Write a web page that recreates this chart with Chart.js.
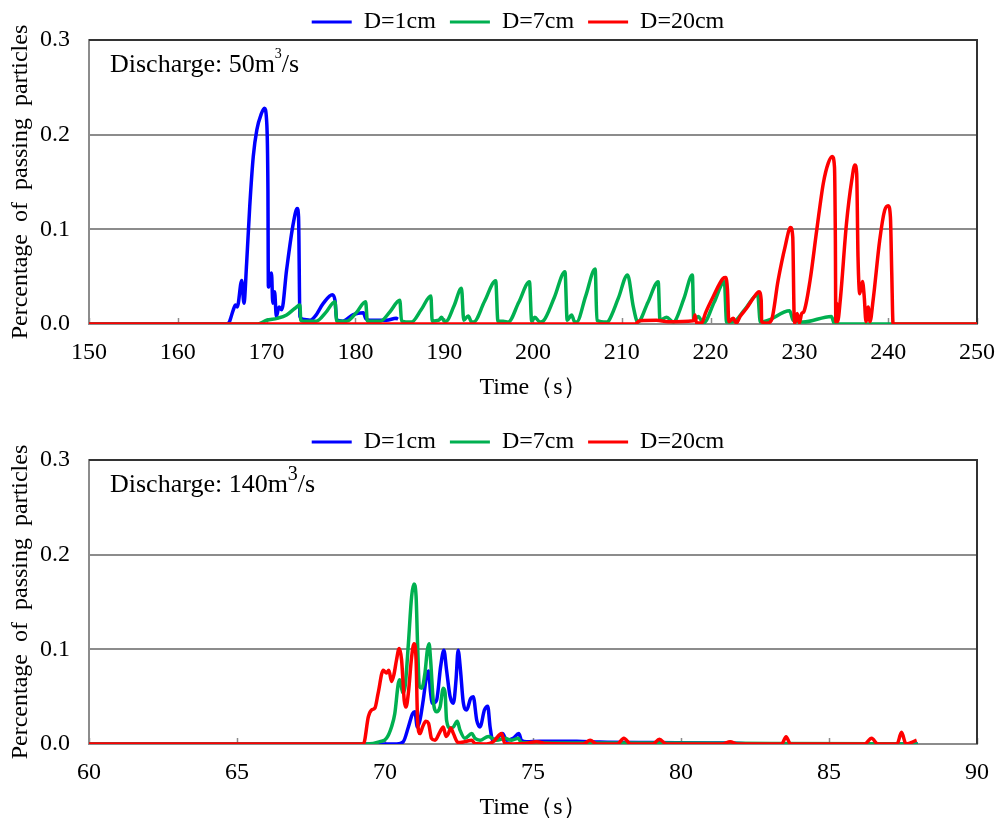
<!DOCTYPE html>
<html>
<head>
<meta charset="utf-8">
<script src="https://cdn.jsdelivr.net/npm/chart.js@4"></script>
<style>
  body { margin: 0; background: #fff; }
  .panel { position: absolute; left: 0; width: 998px; height: 403px; }
  #top-panel { top: 0; }
  #bottom-panel { top: 420px; }
</style>
</head>
<body>
<div class="panel" id="top-panel"><canvas id="chart50"></canvas></div>
<div class="panel" id="bottom-panel"><canvas id="chart140"></canvas></div>
<script>
// series
const seriesNames = ['D=1cm', 'D=7cm', 'D=20cm'];
const seriesColors = ['#0000FF', '#00B050', '#FF0000'];

// Discharge 50 m3/s (time in s, share of passing particles)
const top1cmTime = [150, 165.6, 165.8, 166.25, 166.5, 166.7, 167.2, 167.45, 167.75, 168.1, 168.5, 168.9, 169.4, 169.75, 170.0, 170.15, 170.2, 170.55, 170.7, 170.9, 171.1, 171.4, 171.7, 172.25, 173.0, 173.45, 173.6, 173.75, 174.1, 174.9, 175.45, 176.4, 177.4, 177.7, 177.9, 178.6, 179.75, 180.9, 181.15, 181.65, 183.5, 184.6, 184.8];
const top1cmValue = [0, 0, 0.002, 0.015, 0.02, 0.018, 0.046, 0.022, 0.064, 0.124, 0.177, 0.205, 0.222, 0.228, 0.215, 0.142, 0.039, 0.054, 0.022, 0.034, 0.008, 0.018, 0.015, 0.057, 0.106, 0.122, 0.113, 0.008, 0.005, 0.004, 0.008, 0.022, 0.031, 0.025, 0.004, 0.003, 0.01, 0.012, 0.006, 0.004, 0.004, 0.006, 0.005];

const top7cmTime = [150, 169.0, 170.0, 171.2, 172.25, 173.2, 173.75, 173.85, 174.1, 175.6,
  176.65, 177.7, 177.9, 179.0, 180.1, 181.15, 181.35, 182.8, 183.9, 185.0,
  185.2, 186.3, 187.4, 188.5, 188.65, 189.4, 189.7, 190.0, 190.2, 191.1,
  191.95, 192.2, 192.7, 193.1, 193.3, 194.55, 195.8, 196.05, 196.65, 197.2,
  198.4, 199.6, 199.85, 200.2, 200.8, 201.15, 202.4, 203.6, 203.85, 204.35,
  204.7, 204.9, 205.95, 207.0, 207.2, 208.3, 208.5, 209.6, 210.65, 211.3,
  211.8, 212.95, 214.1, 214.3, 215.05, 215.8, 216.0, 217.0, 217.95, 218.1,
  218.6, 219.2, 220.4, 221.55, 221.8, 222.5, 223.9, 225.3, 225.6, 226.5,
  228.9, 229.3, 230.4, 233.6, 233.9, 234.2, 250];
const top7cmValue = [0, 0, 0.004, 0.006, 0.0095, 0.0166, 0.02, 0.004, 0.003, 0.003,
  0.012, 0.0236, 0.003, 0.003, 0.012, 0.0236, 0.003, 0.003, 0.013, 0.025,
  0.003, 0.002, 0.015, 0.0296, 0.003, 0.004, 0.007, 0.003, 0.003, 0.019,
  0.0377, 0.004, 0.0085, 0.002, 0.002, 0.024, 0.0458, 0.003, 0.003, 0.002,
  0.023, 0.0447, 0.003, 0.007, 0.002, 0.003, 0.028, 0.0553, 0.004, 0.0095,
  0.002, 0.002, 0.03, 0.058, 0.004, 0.002, 0.003, 0.027, 0.0518, 0.018,
  0.002, 0.023, 0.0447, 0.004, 0.007, 0.002, 0.003, 0.027, 0.0518, 0.004,
  0.008, 0.001, 0.023, 0.0447, 0.002, 0.002, 0.016, 0.031, 0.002, 0.004,
  0.014, 0.004, 0.002, 0.008, 0.001, 0, 0];

const top20cmTime = [150, 211.5, 212.05, 213.9, 215.2, 218.05, 218.25, 218.4, 219.0, 219.4, 220.3, 221.4, 221.7, 221.9, 222.05, 222.55, 222.9, 223.3, 224.05, 225.2, 225.45, 225.7, 225.75, 226.3, 226.85, 227.6, 228.4, 229.0, 229.25, 229.4, 229.5, 229.75, 230.0, 230.25, 230.5, 231.2, 231.95, 232.7, 233.25, 233.7, 233.95, 234.05, 234.1, 234.2, 234.3, 234.6, 235.3, 235.9, 236.25, 236.45, 236.6, 236.8, 237.1, 237.3, 237.5, 237.75, 237.95, 238.3, 239.05, 239.6, 240.0, 240.25, 240.4, 240.55, 250];
const top20cmValue = [0, 0, 0.0035, 0.004, 0.0025, 0.0035, 0.0095, 0.001, 0.001, 0.011, 0.029, 0.048, 0.049, 0.036, 0.0025, 0.006, 0.001, 0.0077, 0.0166, 0.0324, 0.034, 0.025, 0.0025, 0.0007, 0.004, 0.046, 0.082, 0.102, 0.092, 0.011, 0.001, 0.011, 0.001, 0.011, 0.013, 0.046, 0.099, 0.149, 0.17, 0.177, 0.166, 0.089, 0.0025, 0.022, 0.0025, 0.025, 0.106, 0.152, 0.168, 0.159, 0.071, 0.032, 0.045, 0.029, 0.0025, 0.018, 0.0025, 0.025, 0.089, 0.12, 0.125, 0.113, 0.054, 0, 0];

// Discharge 140 m3/s
const bot1cmTime = [60, 69.8, 70.4, 70.62, 70.79, 70.93, 71.01, 71.09, 71.18, 71.29, 71.4, 71.47, 71.54, 71.6, 71.74, 71.88, 71.99, 72.08, 72.2, 72.31, 72.4, 72.47, 72.55, 72.64, 72.76, 72.89, 72.98, 73.1, 73.21, 73.36, 73.47, 73.55, 73.64, 73.77, 73.97, 74.11, 74.33, 74.52, 74.61, 74.78, 75.24, 75.57, 76.48, 77.26, 79.0, 81.66, 82.5, 88];
const bot1cmValue = [0, 0, 0, 0.0025, 0.018, 0.032, 0.034, 0.018, 0.025, 0.046, 0.071, 0.077, 0.054, 0.043, 0.046, 0.082, 0.099, 0.078, 0.05, 0.043, 0.068, 0.099, 0.078, 0.045, 0.036, 0.048, 0.05, 0.025, 0.018, 0.036, 0.04, 0.018, 0.004, 0.006, 0.011, 0.004, 0.006, 0.011, 0.004, 0.0025, 0.003, 0.003, 0.003, 0.002, 0.0015, 0.001, 0, 0];

const bot7cmTime = [60, 69.38, 69.83, 70.05, 70.22, 70.33, 70.45, 70.5, 70.6, 70.68, 70.79, 70.9, 70.98, 71.05, 71.1, 71.16, 71.24, 71.35, 71.43, 71.49, 71.54, 71.63, 71.74, 71.86, 71.97, 72.03, 72.08, 72.2, 72.31, 72.44, 72.53, 72.7, 72.93, 73.04, 73.21, 73.49, 73.77, 74.05, 74.28, 74.5, 74.61, 76.0, 80.0, 83.0, 88];
const bot7cmValue = [0, 0, 0.0025, 0.006, 0.018, 0.032, 0.064, 0.068, 0.054, 0.061, 0.106, 0.156, 0.169, 0.156, 0.106, 0.061, 0.059, 0.075, 0.099, 0.106, 0.089, 0.046, 0.034, 0.039, 0.059, 0.054, 0.025, 0.017, 0.018, 0.024, 0.015, 0.006, 0.011, 0.006, 0.004, 0.008, 0.004, 0.006, 0.004, 0.006, 0.0015, 0.001, 0.001, 0.0005, 0];

const bot20cmTime = [60, 69.27, 69.44, 69.55, 69.66, 69.77, 69.94, 70.05, 70.13, 70.22, 70.3, 70.39, 70.48, 70.56, 70.65, 70.71, 70.79, 70.9, 70.98, 71.05, 71.1, 71.18, 71.27, 71.38, 71.47, 71.57, 71.69, 71.86, 71.97, 72.06, 72.14, 72.22, 72.31, 72.47, 72.7, 72.93, 73.04, 73.43, 73.66, 73.94, 74.05, 74.33, 74.73, 75.12, 75.46, 76.7, 76.93, 77.15, 77.85, 78.07, 78.3, 79.05, 79.27, 79.5, 81.4, 81.66, 81.9, 83.4, 83.55, 83.7, 86.2, 86.44, 86.65, 87.3, 87.45, 87.6, 87.96];
const bot20cmValue = [0, 0, 0.029, 0.036, 0.038, 0.054, 0.078, 0.075, 0.078, 0.066, 0.073, 0.089, 0.101, 0.089, 0.046, 0.039, 0.054, 0.092, 0.106, 0.089, 0.025, 0.011, 0.018, 0.024, 0.022, 0.006, 0.004, 0.013, 0.018, 0.008, 0.011, 0.017, 0.011, 0.0015, 0.0025, 0.004, 0.0005, 0, 0.0025, 0.011, 0.0005, 0, 0.0005, 0.0025, 0.0005, 0, 0.004, 0, 0, 0.006, 0, 0, 0.005, 0, 0, 0.0025, 0, 0, 0.0077, 0, 0, 0.006, 0, 0, 0.0123, 0, 0.004];

const yTicks = [0, 0.1, 0.2, 0.3];

const serif = "'Liberation Serif', 'Times New Roman', serif";
Chart.defaults.font.family = serif;
Chart.defaults.font.size = 24;
Chart.defaults.color = '#000';

// top/right frame lines and the small inward ticks on the time axis
const framePlugin = {
  id: 'frame',
  beforeDatasetsDraw(chart) {
    const { ctx, chartArea: a, scales: { x } } = chart;
    ctx.save();
    ctx.strokeStyle = '#8c8c8c';
    ctx.lineWidth = 1.5;
    x.ticks.forEach(t => {
      const px = Math.round(x.getPixelForValue(t.value)) + 0.5;
      ctx.beginPath();
      ctx.moveTo(px, a.bottom);
      ctx.lineTo(px, a.bottom - 6);
      ctx.stroke();
    });
    ctx.strokeStyle = '#333';
    ctx.lineWidth = 2;
    ctx.beginPath();
    ctx.moveTo(a.left, a.top);
    ctx.lineTo(a.right, a.top);
    ctx.lineTo(a.right, a.bottom);
    ctx.stroke();
    ctx.restore();
  }
};

// nudge the legend box so it sits where the original one is
const legendShift = {
  id: 'legendShift',
  afterLayout(chart) {
    const lg = chart.legend;
    if (!lg) return;
    lg.left -= 15;
    lg.right -= 15;
    lg.top -= 4;
    lg.bottom -= 4;
  }
};

function dischargeLabel(value, supSize, supRise) {
  return {
    id: 'discharge',
    afterDatasetsDraw(chart) {
      const { ctx, chartArea: a } = chart;
      ctx.save();
      ctx.fillStyle = '#000';
      ctx.textBaseline = 'alphabetic';
      let x = a.left + 21;
      const y = a.top + 32;
      const head = `Discharge: ${value}m`;
      ctx.font = `26px ${serif}`;
      ctx.fillText(head, x, y);
      x += ctx.measureText(head).width;
      ctx.font = `${supSize}px ${serif}`;
      ctx.fillText('3', x, y - supRise);
      x += ctx.measureText('3').width;
      ctx.font = `26px ${serif}`;
      ctx.fillText('/s', x, y);
      ctx.restore();
    }
  };
}

function buildChart(canvasId, xMin, xMax, xStep, times, values, discharge, supSize, supRise) {
  const datasets = seriesNames.map((name, i) => ({
    label: name,
    data: times[i].map((t, k) => ({ x: t, y: values[i][k] })),
    borderColor: seriesColors[i],
    backgroundColor: seriesColors[i],
    borderWidth: 3.5,
    pointRadius: 0,
    cubicInterpolationMode: 'monotone',
    order: seriesNames.length - i   // red drawn last, on top
  }));

  return new Chart(document.getElementById(canvasId), {
    type: 'line',
    data: { datasets },
    plugins: [framePlugin, legendShift, dischargeLabel(discharge, supSize, supRise)],
    options: {
      responsive: true,
      maintainAspectRatio: false,
      animation: false,
      layout: { padding: { left: 0, right: 21, top: 0, bottom: 0 } },
      plugins: {
        legend: {
          position: 'top',
          fullSize: false,
          maxHeight: 40,
          labels: {
            boxWidth: 40,
            boxHeight: 3,
            padding: 14,
            color: '#000',
            font: { size: 24 },
            sort: (a, b) => a.datasetIndex - b.datasetIndex,
            generateLabels: chart => Chart.defaults.plugins.legend.labels.generateLabels(chart)
              .map(item => ({ ...item, lineWidth: 0 }))
          }
        },
        tooltip: { enabled: false }
      },
      scales: {
        x: {
          type: 'linear',
          min: xMin,
          max: xMax,
          ticks: { stepSize: xStep, padding: 14, autoSkip: false, maxRotation: 0, color: '#000' },
          grid: { display: false, drawTicks: false },
          border: { color: '#8c8c8c', width: 2 },
          title: { display: true, text: 'Time（s）', color: '#000', font: { size: 24 }, padding: { top: 0, bottom: 1 } },
          afterFit: s => { s.height = 79; s.paddingLeft = 0; s.paddingRight = 0; }
        },
        y: {
          min: yTicks[0],
          max: yTicks[yTicks.length - 1],
          ticks: { stepSize: 0.1, padding: 19, color: '#000', callback: v => Number(v).toFixed(1) },
          grid: { color: '#8c8c8c', lineWidth: 2, drawTicks: false },
          border: { color: '#8c8c8c', width: 2 },
          title: { display: true, text: 'Percentage  of  passing  particles', color: '#000', font: { size: 24 }, padding: { top: 6, bottom: 0 } },
          afterFit: s => { s.width = 89; }
        }
      }
    }
  });
}

buildChart('chart50', 150, 250, 10,
  [top1cmTime, top7cmTime, top20cmTime],
  [top1cmValue, top7cmValue, top20cmValue],
  '50', 14, 14);

buildChart('chart140', 60, 90, 5,
  [bot1cmTime, bot7cmTime, bot20cmTime],
  [bot1cmValue, bot7cmValue, bot20cmValue],
  '140', 20, 12);
</script>
</body>
</html>
